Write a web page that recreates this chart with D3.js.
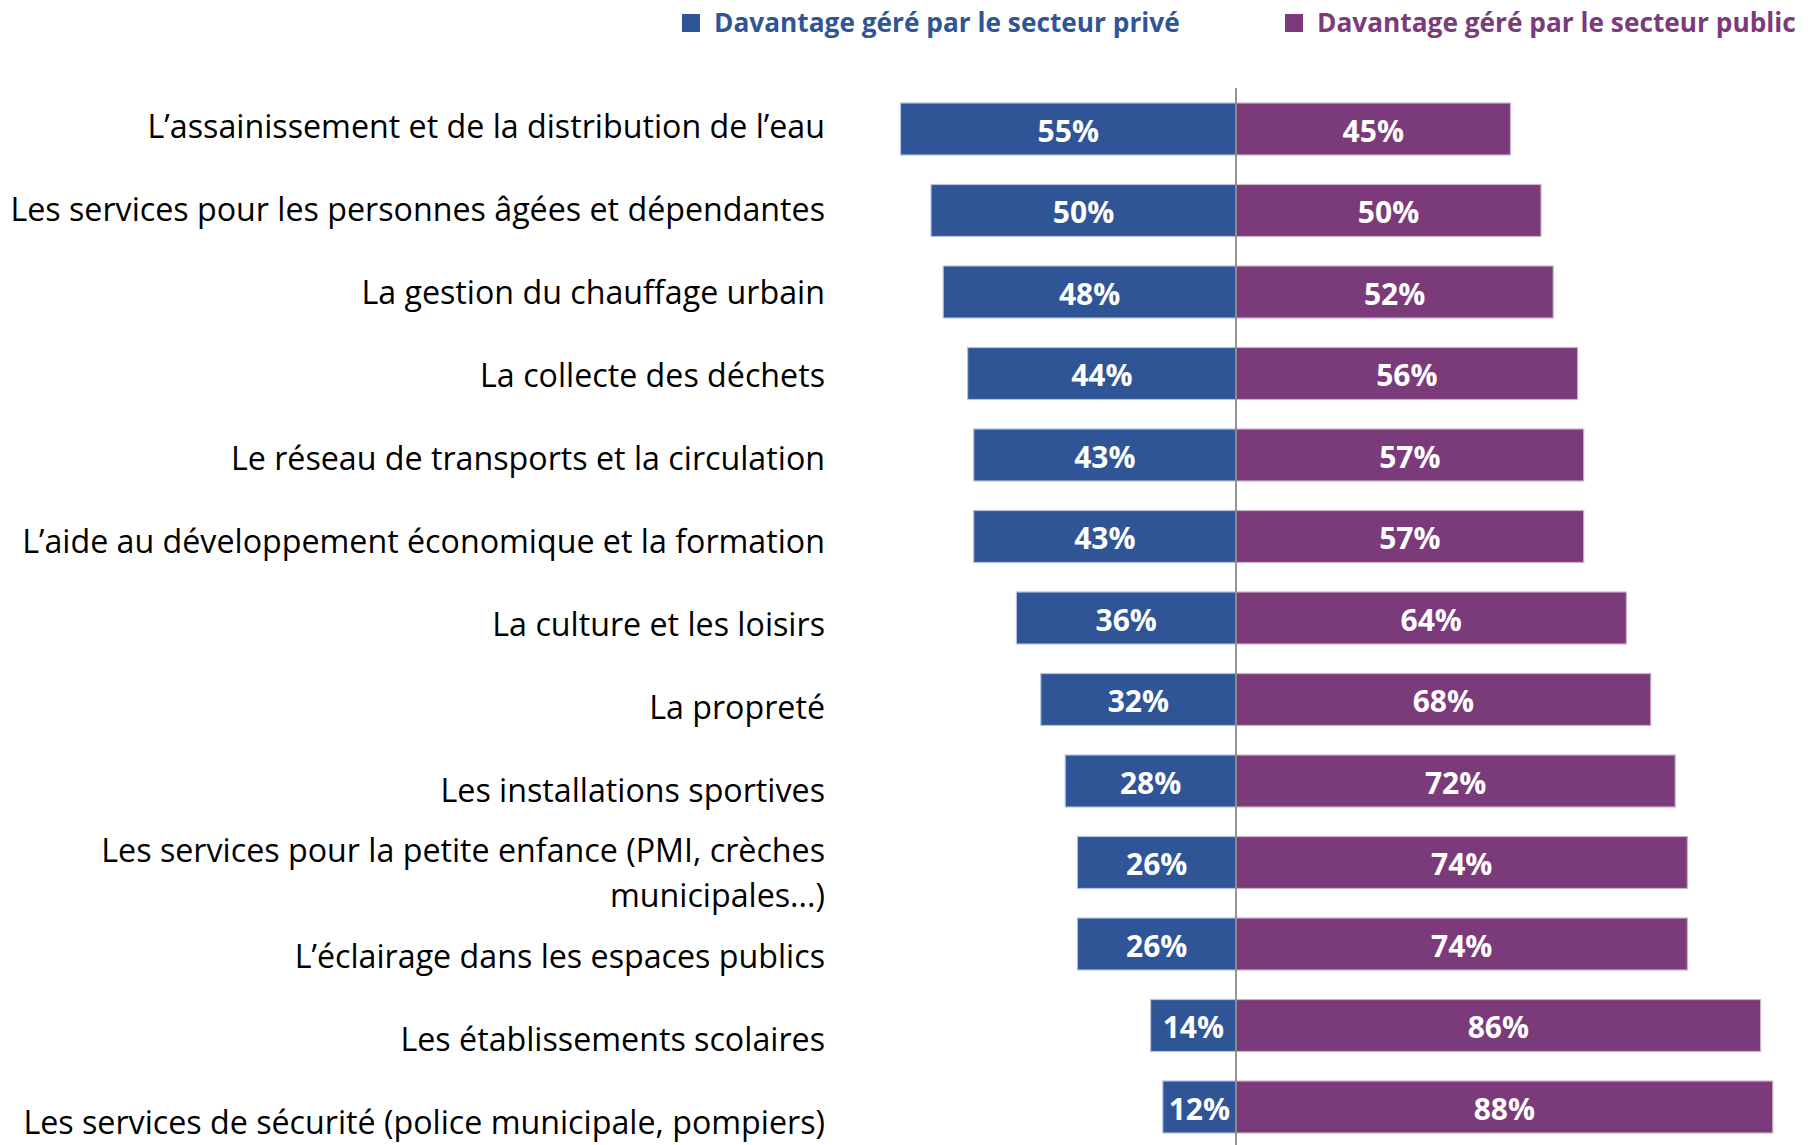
<!DOCTYPE html>
<html><head><meta charset="utf-8">
<script src="https://cdn.jsdelivr.net/npm/d3@7"></script>
<style>html,body{margin:0;padding:0;background:#fff;} svg{display:block;}</style>
</head><body>
<svg id="chart" width="1820" height="1145"></svg>
<script>
const categories = [
  "L’assainissement et de la distribution de l’eau",
  "Les services pour les personnes âgées et dépendantes",
  "La gestion du chauffage urbain",
  "La collecte des déchets",
  "Le réseau de transports et la circulation",
  "L’aide au développement économique et la formation",
  "La culture et les loisirs",
  "La propreté",
  "Les installations sportives",
  "Les services pour la petite enfance (PMI, crèches\nmunicipales...)",
  "L’éclairage dans les espaces publics",
  "Les établissements scolaires",
  "Les services de sécurité (police municipale, pompiers)"
];
const prive = [55,50,48,44,43,43,36,32,28,26,26,14,12];
const publique = [45,50,52,56,57,57,64,68,72,74,74,86,88];
const seriesNames = ["Davantage géré par le secteur privé","Davantage géré par le secteur public"];
const colors = ["#2F5597","#7B3B7A"];

const svg = d3.select("#chart");
const cx = 1236;
const x = d3.scaleLinear().domain([0,100]).range([0,610]);
const yBar = d3.scaleBand().domain(categories).range([103,1133]).paddingInner(0.362).paddingOuter(0);
const yLab = d3.scalePoint().domain(categories).range([128,1124]);
const font = "'Open Sans', sans-serif";

// fit label font size to target width
const probe = svg.append("text").attr("font-family",font).attr("font-size",30)
  .text("Les services pour les personnes âgées et dépendantes");
const w30 = probe.node().getComputedTextLength();
probe.remove();
const labSize = 30*815/w30;

const probe2 = svg.append("text").attr("font-family",font).attr("font-weight","bold").attr("font-size",30)
  .text(seriesNames[0]);
const wl = probe2.node().getComputedTextLength();
probe2.remove();
const legSize = 30*466/wl;

// bars
const g = svg.append("g");
categories.forEach((c,i)=>{
  const y0 = yBar(c), h = yBar.bandwidth();
  g.append("rect").attr("x",cx - x(prive[i])).attr("y",y0).attr("width",x(prive[i])).attr("height",h)
    .attr("fill",colors[0]).attr("stroke","#b4c2de").attr("stroke-width",1.2);
  g.append("rect").attr("x",cx).attr("y",y0).attr("width",x(publique[i])).attr("height",h)
    .attr("fill",colors[1]).attr("stroke","#cdb2cc").attr("stroke-width",1.2);
  g.append("text").attr("x",cx - x(prive[i])/2).attr("y",y0+h/2+2).attr("dy","0.36em")
    .attr("text-anchor","middle").attr("fill","#fff").attr("font-weight","bold")
    .attr("font-family",font).attr("font-size",30).text(prive[i]+"%");
  g.append("text").attr("x",cx + x(publique[i])/2).attr("y",y0+h/2+2).attr("dy","0.36em")
    .attr("text-anchor","middle").attr("fill","#fff").attr("font-weight","bold")
    .attr("font-family",font).attr("font-size",30).text(publique[i]+"%");
});

// center line
svg.append("line").attr("x1",cx).attr("x2",cx).attr("y1",88).attr("y2",1145)
  .attr("stroke","#8a8a8a").attr("stroke-width",1.8);

// category labels
categories.forEach(c=>{
  const lines = c.split("\n");
  const lh = 45;
  const t = svg.append("text").attr("text-anchor","end").attr("font-family",font)
    .attr("font-size",labSize).attr("fill","#000");
  lines.forEach((ln,j)=>{
    t.append("tspan").attr("x",825).attr("y",yLab(c) + (j-(lines.length-1)/2)*lh).attr("dy","0.3em").text(ln);
  });
});

// legend
const legX = [682,1285];
seriesNames.forEach((s,i)=>{
  svg.append("rect").attr("x",legX[i]).attr("y",14).attr("width",18).attr("height",18).attr("fill",colors[i]);
  svg.append("text").attr("x",legX[i]+32).attr("y",23).attr("dy","0.36em")
    .attr("font-family",font).attr("font-weight","bold").attr("font-size",legSize)
    .attr("fill",colors[i]).text(s);
});
</script>
</body></html>
